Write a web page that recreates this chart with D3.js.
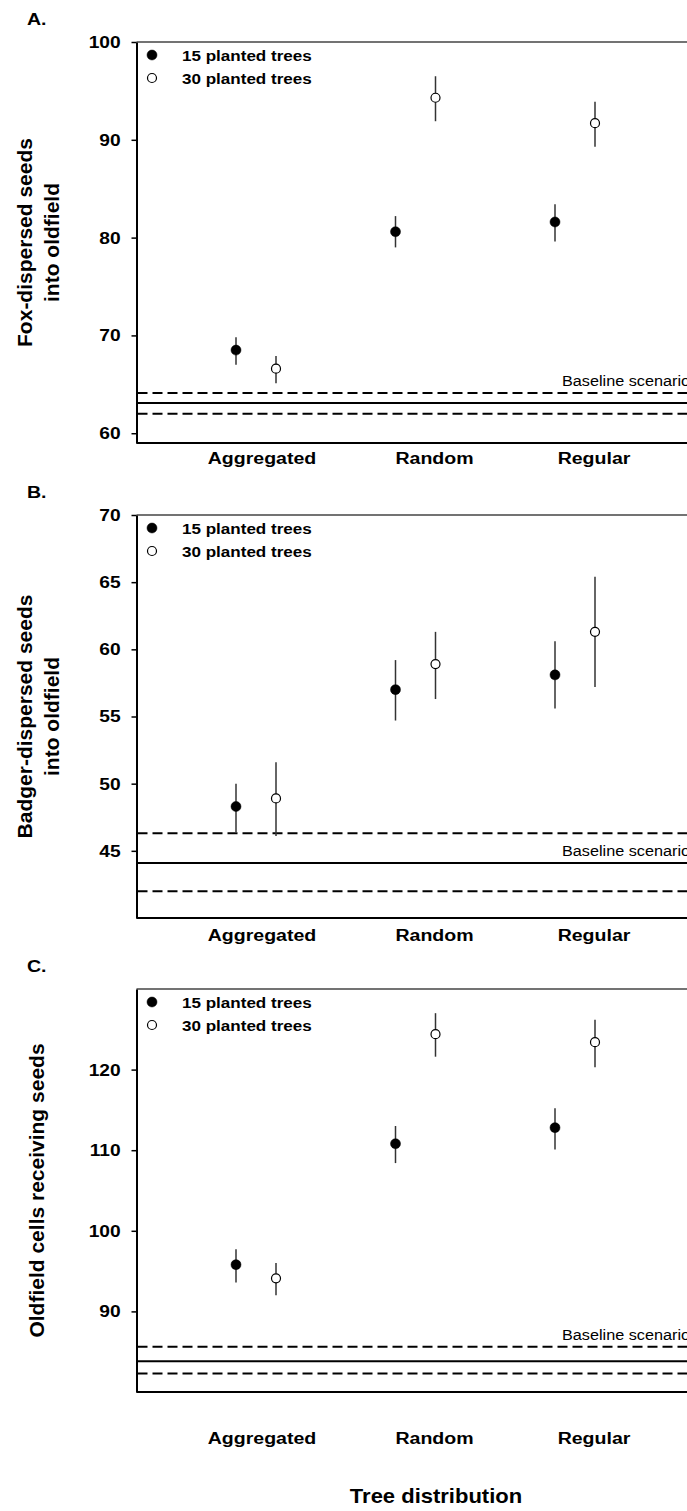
<!DOCTYPE html>
<html>
<head>
<meta charset="utf-8">
<script src="https://cdn.jsdelivr.net/npm/d3@7"></script>
<style>
  body { margin: 0; background: #fff; }
  svg { display: block; font-family: Arial, "Liberation Sans", sans-serif; }
</style>
</head>
<body>
<div id="chart"></div>
<script>
// categories and series
const categories = ["Aggregated", "Random", "Regular"];
const seriesNames = ["15 planted trees", "30 planted trees"];

// Panel A: fox-dispersed seeds (mean, lower and upper CI)
const foxMean15 = [68.5, 80.6, 81.6];
const foxLow15 = [67.0, 79.0, 79.6];
const foxHigh15 = [69.8, 82.2, 83.4];
const foxMean30 = [66.6, 94.3, 91.7];
const foxLow30 = [65.1, 91.9, 89.3];
const foxHigh30 = [67.9, 96.5, 93.9];
const foxBaseline = [62.0, 63.1, 64.1]; // lower, mean, upper
const foxTicks = [60, 70, 80, 90, 100];

// Panel B: badger-dispersed seeds
const badgerMean15 = [48.3, 57.0, 58.1];
const badgerLow15 = [46.4, 54.7, 55.6];
const badgerHigh15 = [50.0, 59.2, 60.6];
const badgerMean30 = [48.9, 58.9, 61.3];
const badgerLow30 = [46.1, 56.3, 57.2];
const badgerHigh30 = [51.6, 61.3, 65.4];
const badgerBaseline = [42.0, 44.1, 46.3];
const badgerTicks = [45, 50, 55, 60, 65, 70];

// Panel C: oldfield cells receiving seeds
const cellsMean15 = [95.8, 110.8, 112.8];
const cellsLow15 = [93.6, 108.4, 110.1];
const cellsHigh15 = [97.7, 113.0, 115.2];
const cellsMean30 = [94.1, 124.4, 123.4];
const cellsLow30 = [92.0, 121.6, 120.3];
const cellsHigh30 = [96.0, 127.0, 126.2];
const cellsBaseline = [82.3, 83.8, 85.6];
const cellsTicks = [90, 100, 110, 120];

const width = 687, height = 1511;
const axisX = 136.5;

const panels = [
    { letter: "A.", title: ["Fox-dispersed seeds", "into oldfield"], domain: [59, 100], range: [443, 42],
      ticks: foxTicks, base: foxBaseline, labelOn: 2, catY: 464,
      s15: [foxMean15, foxLow15, foxHigh15], s30: [foxMean30, foxLow30, foxHigh30] },
    { letter: "B.", title: ["Badger-dispersed seeds", "into oldfield"], domain: [40, 70], range: [918, 515],
      ticks: badgerTicks, base: badgerBaseline, labelOn: 1, catY: 941,
      s15: [badgerMean15, badgerLow15, badgerHigh15], s30: [badgerMean30, badgerLow30, badgerHigh30] },
    { letter: "C.", title: ["Oldfield cells receiving seeds"], domain: [80, 130], range: [1392, 989],
      ticks: cellsTicks, base: cellsBaseline, labelOn: 2, catY: 1444,
      s15: [cellsMean15, cellsLow15, cellsHigh15], s30: [cellsMean30, cellsLow30, cellsHigh30] }
];

const svg = d3.select("#chart").append("svg")
    .attr("width", width)
    .attr("height", height);

const x = d3.scalePoint().domain(categories).range([256, 575]);
const offset = 20;

// text drawn slightly wider than the font, like the original figure
function label(parent, px, py, str, size, weight, anchor, sx) {
    return parent.append("text")
        .attr("transform", `translate(${px},${py}) scale(${sx},1)`)
        .attr("text-anchor", anchor)
        .attr("font-size", size)
        .attr("font-weight", weight)
        .attr("fill", "#000")
        .text(str);
}

panels.forEach(p => {
    const y = d3.scaleLinear().domain(p.domain).range(p.range);
    const g = svg.append("g");
    const top = p.range[1], bottom = p.range[0];

    // frame: top border and bottom axis
    g.append("line")
        .attr("x1", axisX).attr("x2", width)
        .attr("y1", top).attr("y2", top)
        .attr("stroke", "#444").attr("stroke-width", 1.5);
    g.append("line")
        .attr("x1", axisX).attr("x2", width)
        .attr("y1", bottom).attr("y2", bottom)
        .attr("stroke", "#000").attr("stroke-width", 2);

    // y axis
    const ax = g.append("g")
        .attr("transform", `translate(${axisX},0)`)
        .call(d3.axisLeft(y).tickValues(p.ticks).tickSize(5).tickSizeOuter(0).tickPadding(9));
    ax.select(".domain").attr("stroke", "#000").attr("stroke-width", 2);
    ax.selectAll(".tick line").attr("stroke", "#000").attr("stroke-width", 1.5);
    ax.selectAll(".tick text")
        .attr("font-size", 17)
        .attr("font-weight", "bold")
        .attr("font-family", "Arial, 'Liberation Sans', sans-serif")
        .attr("fill", "#000")
        .attr("transform", "scale(1.13,1)");

    // baseline scenario lines
    p.base.forEach((v, i) => {
        g.append("line")
            .attr("x1", axisX + 1).attr("x2", width)
            .attr("y1", y(v)).attr("y2", y(v))
            .attr("stroke", "#000").attr("stroke-width", 2)
            .attr("stroke-dasharray", i === 1 ? null : "10,5");
    });
    label(g, 562, y(p.base[p.labelOn]) - 7, "Baseline scenario", 14.5, "normal", "start", 1.12);

    // error bars and points
    [p.s15, p.s30].forEach((s, k) => {
        const cx = c => x(c) + (k === 0 ? -offset : offset);
        g.selectAll(null)
            .data(categories)
            .enter().append("line")
            .attr("x1", cx).attr("x2", cx)
            .attr("y1", (c, i) => y(s[1][i]))
            .attr("y2", (c, i) => y(s[2][i]))
            .attr("stroke", "#333")
            .attr("stroke-width", 1.5);
        g.selectAll(null)
            .data(categories)
            .enter().append("circle")
            .attr("cx", cx)
            .attr("cy", (c, i) => y(s[0][i]))
            .attr("r", k === 0 ? 5 : 4.5)
            .attr("fill", k === 0 ? "#000" : "#fff")
            .attr("stroke", "#000")
            .attr("stroke-width", k === 0 ? 0.5 : 1.2);
    });

    // legend
    seriesNames.forEach((name, k) => {
        const ly = top + 13 + k * 23;
        g.append("circle")
            .attr("cx", 152).attr("cy", ly)
            .attr("r", k === 0 ? 5 : 4.5)
            .attr("fill", k === 0 ? "#000" : "#fff")
            .attr("stroke", "#000")
            .attr("stroke-width", k === 0 ? 0.5 : 1.2);
        label(g, 182, ly + 5.5, name, 15.5, "bold", "start", 1.1);
    });

    // category labels (the first one sits a little closer to its points)
    categories.forEach((c, i) => {
        label(g, x(c) + (i === 0 ? 6 : 19), p.catY, c, 17, "bold", "middle", 1.15);
    });

    // panel letter
    label(g, 27, top - 17, p.letter, 17, "bold", "start", 1.15);

    // y title
    const mid = (top + bottom) / 2;
    const lineX = p.title.length === 1 ? [44] : [32, 59];
    p.title.forEach((t, i) => {
        g.append("text")
            .attr("transform", `translate(${lineX[i]},${mid}) rotate(-90)`)
            .attr("text-anchor", "middle")
            .attr("font-size", 21)
            .attr("font-weight", "bold")
            .attr("fill", "#000")
            .text(t);
    });
});

// x axis title
label(svg, 436, 1503, "Tree distribution", 20, "bold", "middle", 1.1);
</script>
</body>
</html>
